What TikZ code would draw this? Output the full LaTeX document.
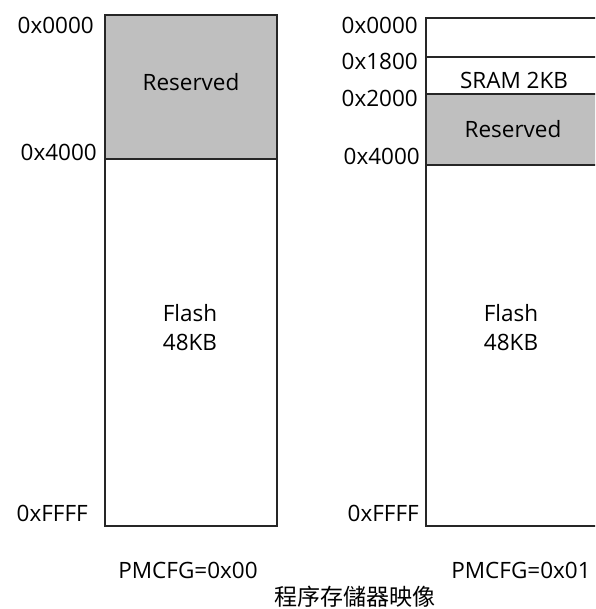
\documentclass[tikz,border=0pt]{standalone}
\usepackage{fontspec}
\setmainfont{Open Sans}
\newfontfamily\cjk{Noto Sans CJK SC}
\begin{document}
\begin{tikzpicture}[x=1pt,y=-1pt,
  box/.style={draw=black!85,line width=1.2pt},
  res/.style={fill=black!25},
  lbl/.style={font=\fontsize{22.5}{29}\selectfont,inner sep=0pt},
  addr/.style={lbl,anchor=east}]
\useasboundingbox (0,0) rectangle (595,609);
\clip (0,0) rectangle (595,609);
% left map
\fill[res] (105,15) rectangle (277,159);
\draw[box] (105,15) rectangle (277,526);
\draw[box] (105,159) -- (277,159);
% right map
\fill[res] (426,94) rectangle (600,165);
\draw[box] (600,18) -- (426,18) -- (426,526) -- (600,526);
\draw[box] (426,57) -- (600,57);
\draw[box] (426,94) -- (600,94);
\draw[box] (426,165) -- (600,165);
% texts left
\node[lbl] (r1) at (191,82) {Reserved};
\node[lbl,align=center] (f1) at (190,327.5) {Flash\\48KB};
\node[addr] (a10) at (94,25) {0x0000};
\node[addr] (a14) at (97,152) {0x4000};
\node[addr] (a1f) at (88,513) {0xFFFF};
% texts right
\node[lbl] (s2) at (514,80) {SRAM 2KB};
\node[lbl] (r2) at (513,129) {Reserved};
\node[lbl,align=center] (f2) at (511,327.5) {Flash\\48KB};
\node[addr] (a20) at (418,25) {0x0000};
\node[addr] (a21) at (418,61) {0x1800};
\node[addr] (a22) at (418,98) {0x2000};
\node[addr] (a24) at (420,156) {0x4000};
\node[addr] (a2f) at (419,513) {0xFFFF};
% captions
\node[lbl] (c1) at (188,570) {PMCFG=0x00};
\node[lbl] (c2) at (521,570) {PMCFG=0x01};
\node[lbl,font=\cjk\fontsize{23}{27}\selectfont] (c3) at (355,597) {程序存儲器映像};
\end{tikzpicture}
\end{document}
